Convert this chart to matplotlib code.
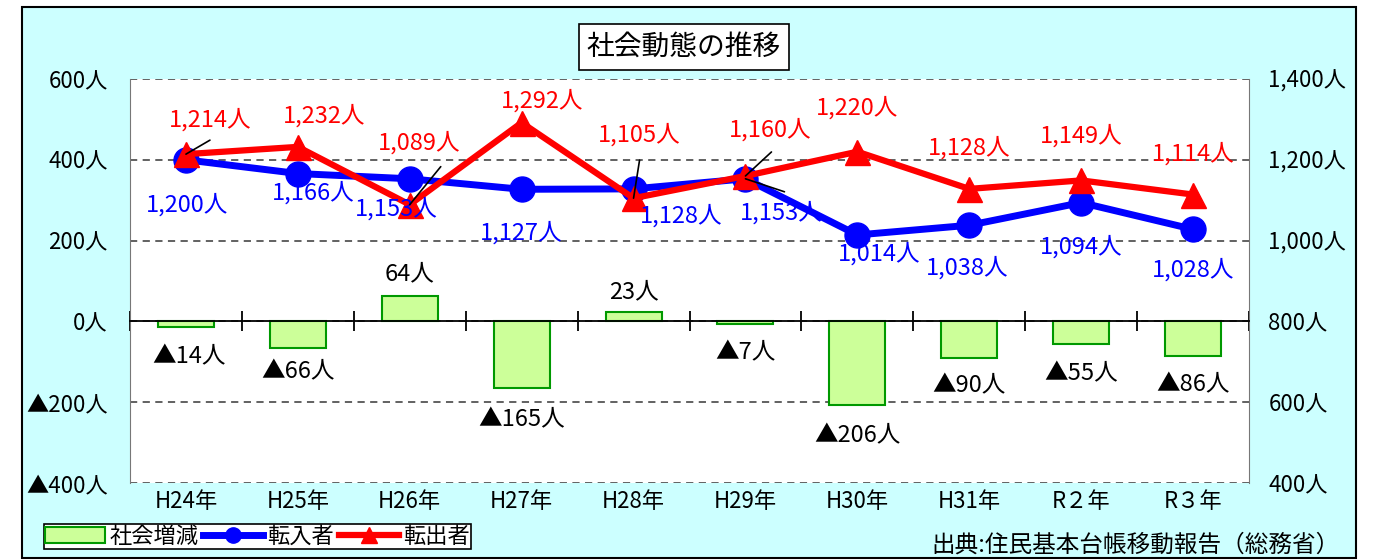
import matplotlib
matplotlib.use('Agg')
import matplotlib.pyplot as plt
from matplotlib.patches import Rectangle
from matplotlib.lines import Line2D
from matplotlib.patches import Patch
import numpy as np

plt.rcParams['font.family'] = ['Noto Sans CJK JP', 'DejaVu Sans']

# data
years = ['H24年', 'H25年', 'H26年', 'H27年', 'H28年', 'H29年', 'H30年', 'H31年', 'R２年', 'R３年']
tennyu = [1200, 1166, 1153, 1127, 1128, 1153, 1014, 1038, 1094, 1028]
tenshutsu = [1214, 1232, 1089, 1292, 1105, 1160, 1220, 1128, 1149, 1114]
zougen = [-14, -66, 64, -165, 23, -7, -206, -90, -55, -86]

left_ticks = [-400, -200, 0, 200, 400, 600]
right_ticks = [400, 600, 800, 1000, 1200, 1400]

# label offsets in pixels (dx, dy)
red_off = [(24, 34), (26, 31), (9, 62), (20, 22), (6, 63), (25, 46), (0, 44), (0, 41), (0, 45), (0, 41)]
blue_off = [(1, -45), (15, -19), (-13, -30), (0, -44), (48, -27), (36, -34), (22, -19), (-2, -43), (0, -44), (0, -41)]
bar_off = [(3, -30), (0, -24), (0, 22), (0, -32), (0, 20), (0, -29), (0, -31), (0, -28), (0, -30), (0, -29)]
# leader lines: (series, index, dx, dy)
leaders = [('r', 0, 24, 14), ('r', 2, 31, 38), ('r', 4, 6, 38), ('r', 5, 26, 24), ('b', 5, 39, -13)]

fs = 16
lfs = 17
x = np.arange(len(years))

fig = plt.figure(figsize=(13.79, 5.6), dpi=100)
fig.patches.append(Rectangle((22 / 1379, 2 / 560), 1334 / 1379, 551 / 560, transform=fig.transFigure,
                             facecolor='#CCFFFF', edgecolor='black', lw=1.5, zorder=-5))

ax = fig.add_axes([130 / 1379, 77 / 560, 1119 / 1379, 404 / 560])
ax.set_facecolor('white')
ax.bar(x, zougen, width=0.5, color='#CCFF99', edgecolor='#009900', lw=1.5, zorder=3, label='社会増減')
ax.set_xlim(-0.5, 9.5)
ax.set_ylim(-400, 600)
ax.set_yticks(left_ticks)
ax.set_yticklabels([('▲%d人' % -v) if v < 0 else '%d人' % v for v in left_ticks], fontsize=fs)
ax.tick_params(axis='y', length=0, pad=16)
ax.grid(axis='y', ls=(0, (4, 3)), color='#555555', lw=1.3)
ax.set_axisbelow(True)
ax.spines['top'].set_visible(False)
ax.spines['left'].set_color('#777777')
ax.spines['right'].set_color('#777777')
ax.spines['bottom'].set_position(('data', 0))
ax.spines['bottom'].set_zorder(4)
ax.spines['bottom'].set_linewidth(1.3)
ax.set_xticks(np.arange(-0.5, 10, 1))
ax.tick_params(axis='x', direction='inout', length=14, width=1.3, labelbottom=False)

sec = ax.secondary_xaxis(0)
sec.set_xticks(x, labels=years, fontsize=fs)
sec.tick_params(length=0, pad=5)
sec.spines['bottom'].set_visible(False)

for i, v in enumerate(zougen):
    t = ('▲%d人' % -v) if v < 0 else '%d人' % v
    ax.annotate(t, xy=(i, v), xytext=bar_off[i], textcoords='offset pixels',
                ha='center', va='center', fontsize=lfs, color='black')

ax2 = ax.twinx()
ax2.set_ylim(400, 1400)
for s in ax2.spines.values():
    s.set_visible(False)
ax2.set_yticks(right_ticks)
ax2.set_yticklabels(['{:,}人'.format(v) for v in right_ticks], fontsize=fs)
ax2.tick_params(axis='y', length=0, pad=14)

ax2.plot(x, tennyu, color='#0000FF', lw=5, marker='o', ms=18, zorder=3, label='転入者')
ax2.plot(x, tenshutsu, color='#FF0000', lw=4.5, marker='^', ms=18, zorder=4, label='転出者')

for i, v in enumerate(tenshutsu):
    ax2.annotate('{:,}人'.format(v), xy=(i, v), xytext=red_off[i], textcoords='offset pixels',
                 ha='center', va='center', fontsize=lfs, color='#FF0000', zorder=6)
for i, v in enumerate(tennyu):
    ax2.annotate('{:,}人'.format(v), xy=(i, v), xytext=blue_off[i], textcoords='offset pixels',
                 ha='center', va='center', fontsize=lfs, color='#0000FF', zorder=6)
for ser, i, dx, dy in leaders:
    v = tenshutsu[i] if ser == 'r' else tennyu[i]
    ax2.annotate('', xy=(i, v), xytext=(dx, dy), textcoords='offset pixels',
                 arrowprops=dict(arrowstyle='-', color='black', lw=1.2, shrinkA=0, shrinkB=0), zorder=7)

fig.text(684 / 1379, 1 - 47 / 560, '社会動態の推移', ha='center', va='center', fontsize=20,
         bbox=dict(boxstyle='square,pad=0.3', facecolor='white', edgecolor='black', lw=1.2))
fig.text(1340 / 1379, 1 - 545 / 560, '出典:住民基本台帳移動報告（総務省）', ha='right', va='center', fontsize=17)

handles = [Patch(facecolor='#CCFF99', edgecolor='#009900', lw=1.5),
           Line2D([], [], color='#0000FF', lw=5, marker='o', ms=11),
           Line2D([], [], color='#FF0000', lw=4.5, marker='^', ms=11)]
leg = fig.legend(handles, ['社会増減', '転入者', '転出者'], loc='lower left',
                 bbox_to_anchor=(44 / 1379, 1 - 549 / 560), ncol=3, fontsize=16, frameon=True,
                 fancybox=False, edgecolor='black', framealpha=1, borderpad=0.05, handlelength=2.7,
                 handletextpad=0.2, columnspacing=0.2, borderaxespad=0)
leg.get_frame().set_linewidth(1.2)

fig.savefig('out.png', dpi=100)
